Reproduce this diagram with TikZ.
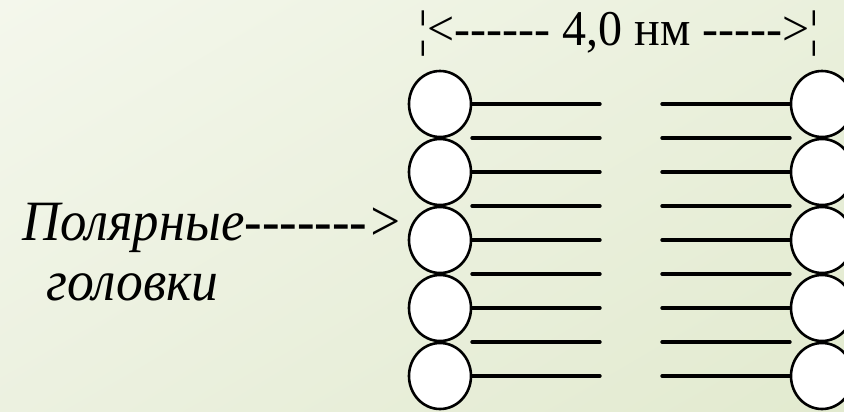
\documentclass[tikz,border=0pt]{standalone}
\usepackage{fontspec}
\setmainfont{Liberation Serif}[Ligatures=TeXOff]
\usetikzlibrary{shadings}
\definecolor{bgul}{HTML}{F4F7EC}
\definecolor{bgur}{HTML}{EAF0DC}
\definecolor{bgll}{HTML}{ECF1E0}
\definecolor{bglr}{HTML}{E2EACF}
\newcommand{\narrow}[2][0.94]{\scalebox{#1}[1]{#2}}
\tikzset{
	head/.style={draw=black, line width=2.6pt, fill=white},
	tail/.style={draw=black, line width=3.4pt, line cap=round},
	caption/.style={inner sep=0pt, anchor=base west}
}

\begin{document}
\begin{tikzpicture}[x=1pt, y=-1pt]
		%%%%% START %%%%%
		
		\shade[upper left=bgul, upper right=bgur, lower left=bgll, lower right=bglr] (0, 0) rectangle (844, 412);
		\useasboundingbox (0, 0) rectangle (844, 412);
		
		% tails of the two layers
		\foreach \y in {104, 138, ..., 376} {
			\draw[tail] (472, \y) -- (600, \y);
			\draw[tail] (662, \y) -- (790, \y);
		}
		\foreach \y in {104, 172, ..., 376} {
			\draw[tail] (440, \y) -- (472, \y);
			\draw[tail] (790, \y) -- (822, \y);
		}
		
		% heads
		\foreach \y in {104, 172, ..., 376} {
			\draw[head] (440, \y) ellipse [x radius=31, y radius=33];
			\draw[head] (822, \y) ellipse [x radius=31, y radius=33];
		}
		
		\node[caption, font=\fontsize{50}{50}\selectfont] (width) at (418, 46) {\narrow[0.96]{¦<------ 4,0 нм ----->¦}};
		
		\node[caption, font=\fontsize{57}{57}\selectfont\itshape] (polar) at (22, 240) {\narrow[0.925]{Полярные------->}};
		\node[caption, font=\fontsize{57}{57}\selectfont\itshape] (heads) at (46, 300) {\narrow{головки}};
		
		%%%%% END %%%%%
	\end{tikzpicture}
\end{document}
